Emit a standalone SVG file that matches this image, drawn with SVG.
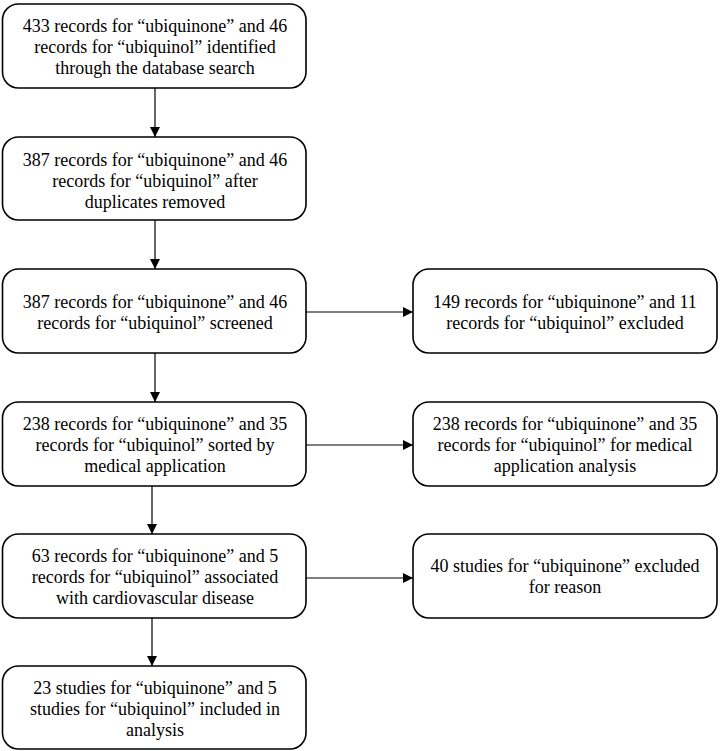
<svg xmlns="http://www.w3.org/2000/svg" width="720" height="751" viewBox="0 0 720 751">
<defs>
<style>
.box{fill:#fff;stroke:#000;stroke-width:1.6}
</style>
<marker id="ah" markerWidth="10" markerHeight="10" viewBox="0 0 10 10" refX="10" refY="5" orient="auto" markerUnits="userSpaceOnUse">
<path d="M0,0 L10,5 L0,10 Z" fill="#000"/>
</marker>
</defs>
<rect width="720" height="751" fill="#fff"/>
<g id="connectors" stroke="#000" stroke-width="1.2" fill="none">
<line x1="155" y1="88" x2="155" y2="137" marker-end="url(#ah)"/>
<line x1="155" y1="220" x2="155" y2="269" marker-end="url(#ah)"/>
<line x1="155" y1="353" x2="155" y2="402" marker-end="url(#ah)"/>
<line x1="152" y1="486" x2="152" y2="534" marker-end="url(#ah)"/>
<line x1="152" y1="618" x2="152" y2="666" marker-end="url(#ah)"/>
<line x1="306" y1="312" x2="413" y2="312" marker-end="url(#ah)"/>
<line x1="306" y1="445" x2="413" y2="445" marker-end="url(#ah)"/>
<line x1="306" y1="578" x2="413" y2="578" marker-end="url(#ah)"/>
</g>
<g font-size="18" fill="#000">
<g id="n1">
<rect class="box" x="2.5" y="4" width="303.5" height="84" rx="16"/>
<text font-family="Times New Roman" text-anchor="middle" x="155" y="32">433 records for “ubiquinone” and 46</text>
<text font-family="Times New Roman" text-anchor="middle" x="155" y="53">records for “ubiquinol” identified</text>
<text font-family="Times New Roman" text-anchor="middle" x="155" y="74">through the database search</text>
</g>
<g id="n2">
<rect class="box" x="2.5" y="137" width="303.5" height="83" rx="16"/>
<text font-family="Times New Roman" text-anchor="middle" x="155" y="166">387 records for “ubiquinone” and 46</text>
<text font-family="Times New Roman" text-anchor="middle" x="155" y="187">records for “ubiquinol” after</text>
<text font-family="Times New Roman" text-anchor="middle" x="155" y="208">duplicates removed</text>
</g>
<g id="n3">
<rect class="box" x="2.5" y="269" width="303.5" height="84" rx="16"/>
<text font-family="Times New Roman" text-anchor="middle" x="155" y="308">387 records for “ubiquinone” and 46</text>
<text font-family="Times New Roman" text-anchor="middle" x="155" y="329">records for “ubiquinol” screened</text>
</g>
<g id="n4">
<rect class="box" x="2.5" y="402" width="303.5" height="84" rx="16"/>
<text font-family="Times New Roman" text-anchor="middle" x="155" y="430">238 records for “ubiquinone” and 35</text>
<text font-family="Times New Roman" text-anchor="middle" x="155" y="451">records for “ubiquinol” sorted by</text>
<text font-family="Times New Roman" text-anchor="middle" x="155" y="472">medical application</text>
</g>
<g id="n5">
<rect class="box" x="2.5" y="534" width="303.5" height="84" rx="16"/>
<text font-family="Times New Roman" text-anchor="middle" x="155" y="562">63 records for “ubiquinone” and 5</text>
<text font-family="Times New Roman" text-anchor="middle" x="155" y="583">records for “ubiquinol” associated</text>
<text font-family="Times New Roman" text-anchor="middle" x="155" y="604">with cardiovascular disease</text>
</g>
<g id="n6">
<rect class="box" x="2.5" y="666" width="303.5" height="83" rx="16"/>
<text font-family="Times New Roman" text-anchor="middle" x="155" y="694">23 studies for “ubiquinone” and 5</text>
<text font-family="Times New Roman" text-anchor="middle" x="155" y="715">studies for “ubiquinol” included in</text>
<text font-family="Times New Roman" text-anchor="middle" x="155" y="736">analysis</text>
</g>
<g id="r3">
<rect class="box" x="413" y="269" width="304" height="84" rx="16"/>
<text font-family="Times New Roman" text-anchor="middle" x="565" y="308">149 records for “ubiquinone” and 11</text>
<text font-family="Times New Roman" text-anchor="middle" x="565" y="329">records for “ubiquinol” excluded</text>
</g>
<g id="r4">
<rect class="box" x="413" y="402" width="304" height="84" rx="16"/>
<text font-family="Times New Roman" text-anchor="middle" x="565" y="430">238 records for “ubiquinone” and 35</text>
<text font-family="Times New Roman" text-anchor="middle" x="565" y="451">records for “ubiquinol” for medical</text>
<text font-family="Times New Roman" text-anchor="middle" x="565" y="472">application analysis</text>
</g>
<g id="r5">
<rect class="box" x="413" y="534" width="304" height="84" rx="16"/>
<text font-family="Times New Roman" text-anchor="middle" x="565" y="572">40 studies for “ubiquinone” excluded</text>
<text font-family="Times New Roman" text-anchor="middle" x="565" y="593">for reason</text>
</g>
</g>
</svg>
